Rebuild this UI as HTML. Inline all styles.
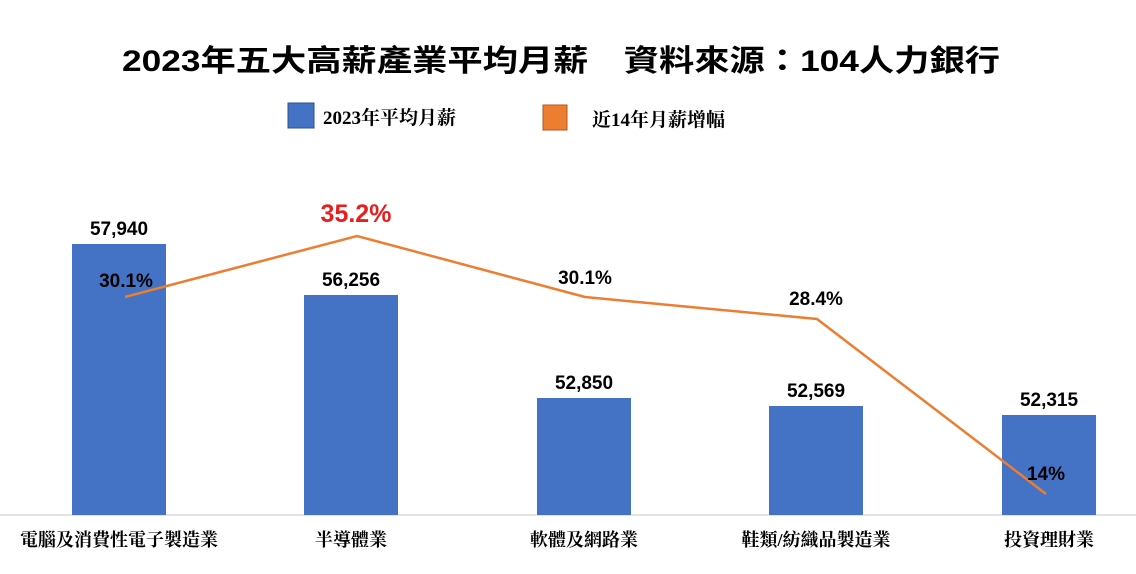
<!DOCTYPE html>
<html><head><meta charset="utf-8"><style>
body{margin:0;background:#fff;}
text{font-family:"Liberation Sans","Noto Sans CJK TC",sans-serif;}
text.s{font-family:"Liberation Serif","Noto Serif CJK SC",serif;}
</style></head><body>
<svg width="1136" height="569" viewBox="0 0 1136 569" xmlns="http://www.w3.org/2000/svg">
<rect width="1136" height="569" fill="#fff"/>
<text x="122" y="71" font-size="30" font-weight="bold" fill="#000" textLength="878" lengthAdjust="spacingAndGlyphs">2023年五大高薪產業平均月薪　資料來源：104人力銀行</text>
<rect x="288" y="103" width="26" height="25" fill="#4472c4" stroke="#2f528f" stroke-width="1"/>
<text class="s" x="323" y="124" font-size="19" font-weight="bold">2023年平均月薪</text>
<rect x="543" y="105" width="24" height="25" fill="#ed7d31" stroke="#ae5a21" stroke-width="1"/>
<text class="s" x="592" y="126" font-size="19" font-weight="bold">近14年月薪增幅</text>
<line x1="0" y1="515" x2="1136" y2="515" stroke="#d9d9d9" stroke-width="1.5"/>
<g fill="#4472c4">
<rect x="72" y="244" width="94" height="271"/>
<rect x="304" y="295" width="94" height="220"/>
<rect x="537" y="398" width="94" height="117"/>
<rect x="769" y="406" width="94" height="109"/>
<rect x="1002" y="415" width="94" height="100"/>
</g>
<g font-size="19" font-weight="bold" text-anchor="middle" fill="#000">
<text x="119" y="235">57,940</text>
<text x="351" y="286">56,256</text>
<text x="584" y="389">52,850</text>
<text x="816" y="397">52,569</text>
<text x="1049" y="406">52,315</text>
</g>
<polyline points="125,297 357,236 585,297 817,319 1046,494" fill="none" stroke="#ed7d31" stroke-width="2.5"/>
<g font-size="19" font-weight="bold" text-anchor="middle" fill="#000">
<text x="126" y="287">30.1%</text>
<text x="356" y="222" font-size="25" fill="#e81e1e">35.2%</text>
<text x="585" y="284">30.1%</text>
<text x="816" y="305">28.4%</text>
<text x="1046" y="480">14%</text>
</g>
<g font-size="18" font-weight="bold" text-anchor="middle" fill="#000">
<text class="s" x="119" y="546">電腦及消費性電子製造業</text>
<text class="s" x="351" y="546">半導體業</text>
<text class="s" x="584" y="546">軟體及網路業</text>
<text class="s" x="816" y="546">鞋類/紡織品製造業</text>
<text class="s" x="1049" y="546">投資理財業</text>
</g>
</svg>
</body></html>
